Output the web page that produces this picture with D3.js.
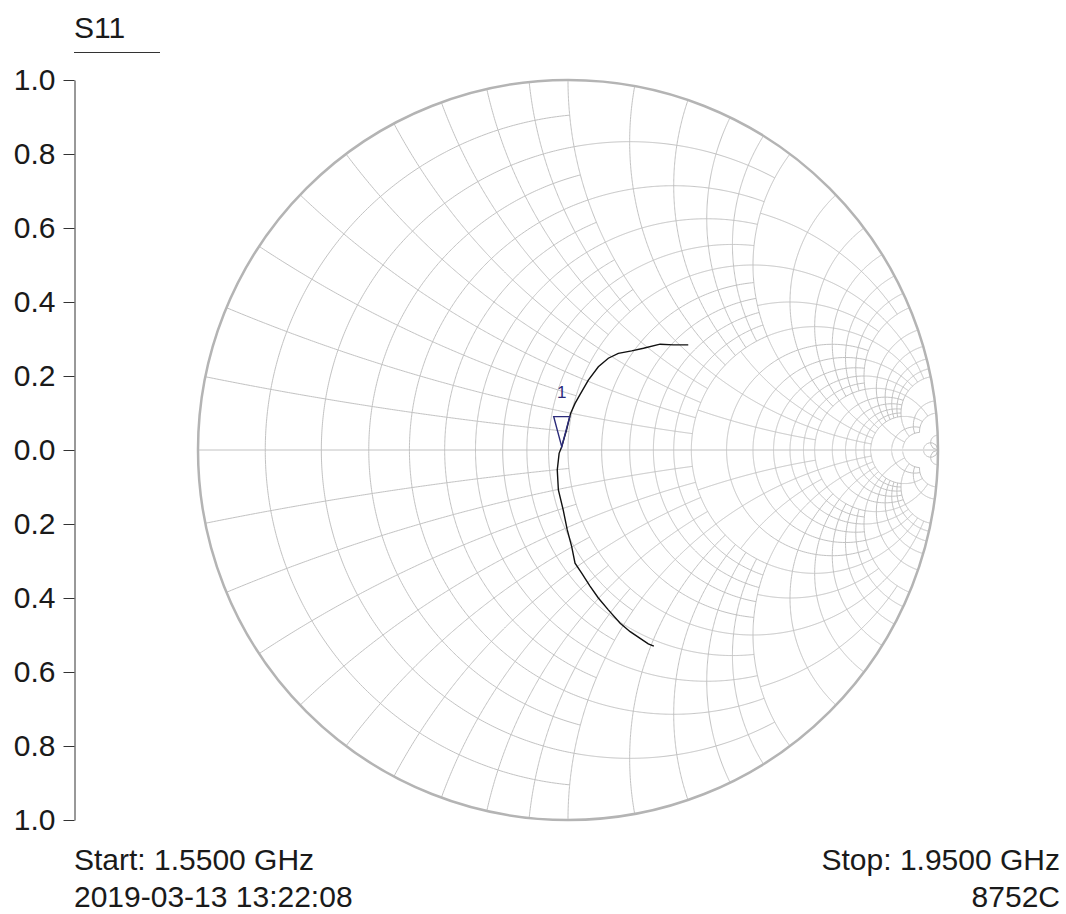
<!DOCTYPE html>
<html>
<head>
<meta charset="utf-8">
<script src="https://cdn.jsdelivr.net/npm/d3@7"></script>
<style>
  body { margin: 0; background: #fff; }
  text { font-family: Arial, "Liberation Sans", sans-serif; fill: #1a1a1a; }
</style>
</head>
<body>
<script>
// grid zones of the chart: inside a zone (lo < max(r,|x|) <= hi) the
// constant resistance and reactance lines take these values
var zoneLo = [0, 1, 2, 5, 10, 20];
var zoneHi = [1, 2, 5, 10, 20, Infinity];
var zoneValues = [
  [0.1, 0.2, 0.3, 0.4, 0.5, 0.6, 0.7, 0.8, 0.9, 1.0],
  [0.2, 0.4, 0.6, 0.8, 1.0, 1.2, 1.4, 1.6, 1.8, 2.0],
  [0.5, 1.0, 1.5, 2.0, 2.5, 3.0, 3.5, 4.0, 4.5, 5.0],
  [1, 2, 3, 4, 5, 6, 7, 8, 9, 10],
  [5, 10, 15, 20],
  [50]
];

// S11 trace, reflection coefficient (real, imag), start -> stop
var traceRe = [0.325, 0.285, 0.249, 0.204, 0.172, 0.136, 0.109, 0.082, 0.055, 0.032,
               0.019, 0.007, -0.004, -0.017, -0.024, -0.029, -0.026, -0.013, -0.002, 0.010,
               0.019, 0.037, 0.059, 0.082, 0.109, 0.141, 0.168, 0.195, 0.217, 0.232];
var traceIm = [0.284, 0.284, 0.286, 0.275, 0.268, 0.261, 0.248, 0.225, 0.189, 0.149,
               0.126, 0.099, 0.054, 0.009, -0.009, -0.054, -0.108, -0.162, -0.216, -0.261,
               -0.306, -0.333, -0.367, -0.400, -0.432, -0.468, -0.491, -0.509, -0.524, -0.530];
var markerIndex = 13;
var markerLabel = "1";

var axisTicks = [1, 0.8, 0.6, 0.4, 0.2, 0, -0.2, -0.4, -0.6, -0.8, -1];
var title = "S11";
var footLeft = ["Start: 1.5500 GHz", "2019-03-13 13:22:08"];
var footRight = ["Stop: 1.9500 GHz", "8752C"];

var W = 1066, H = 914;
var svg = d3.select("body").append("svg")
    .attr("width", W)
    .attr("height", H);

var xs = d3.scaleLinear().domain([-1, 1]).range([198, 938]);
var ys = d3.scaleLinear().domain([-1, 1]).range([820, 80]);

function gamma(r, x) {
  var den = (r + 1) * (r + 1) + x * x;
  return [(r * r + x * x - 1) / den, 2 * x / den];
}

function uOf(v) { return v === Infinity ? Math.PI / 2 : Math.atan(v); }

var line = d3.line()
    .x(function(d) { return xs(d[0]); })
    .y(function(d) { return ys(d[1]); });

var N = 200;
// sample f(tan(u)) for u between atan(a) and atan(b)
function sample(a, b, f) {
  var ua = uOf(a), ub = uOf(b), pts = [];
  for (var i = 0; i <= N; i++) pts.push(f(Math.tan(ua + (ub - ua) * i / N)));
  return pts;
}

var gridPaths = [];
zoneValues.forEach(function(vals, k) {
  var lo = zoneLo[k], hi = zoneHi[k];
  vals.forEach(function(v) {
    // span of the other coordinate inside this zone
    var spans = v > lo ? [[0, hi]] : [[lo, hi]];
    spans.forEach(function(s) {
      [1, -1].forEach(function(sg) {
        // constant resistance r = v
        gridPaths.push(sample(s[0], s[1], function(t) { return gamma(v, sg * t); }));
        // constant reactance x = sg*v
        gridPaths.push(sample(s[0], s[1], function(t) { return gamma(t, sg * v); }));
      });
    });
  });
});

var grid = svg.append("g").attr("class", "grid");
grid.selectAll("path")
    .data(gridPaths)
  .enter().append("path")
    .attr("d", line)
    .attr("fill", "none")
    .attr("stroke", "#c2c2c2")
    .attr("stroke-width", 1);

// real axis
grid.append("line")
    .attr("x1", xs(-1)).attr("x2", xs(1))
    .attr("y1", ys(0)).attr("y2", ys(0))
    .attr("stroke", "#c2c2c2");

// outer circle
svg.append("circle")
    .attr("cx", xs(0))
    .attr("cy", ys(0))
    .attr("r", xs(1) - xs(0))
    .attr("fill", "none")
    .attr("stroke", "#b4b4b4")
    .attr("stroke-width", 2.5);

// trace
var trace = traceRe.map(function(d, i) { return [d, traceIm[i]]; });
svg.append("path")
    .datum(trace)
    .attr("d", line)
    .attr("fill", "none")
    .attr("stroke", "#111")
    .attr("stroke-width", 1.4);

// marker
var mx = xs(traceRe[markerIndex]), my = ys(traceIm[markerIndex]);
svg.append("path")
    .attr("d", "M" + mx + "," + my + " L" + (mx - 8) + "," + (my - 30) + " L" + (mx + 8) + "," + (my - 30) + " Z")
    .attr("fill", "none")
    .attr("stroke", "#2b2b7a")
    .attr("stroke-width", 1.4);
svg.append("text")
    .attr("x", mx)
    .attr("y", my - 49)
    .attr("text-anchor", "middle")
    .style("font-size", "17px")
    .style("fill", "#2b2b7a")
    .text(markerLabel);

// left axis
var yaxis = d3.axisLeft(ys)
    .tickValues(axisTicks)
    .tickSize(11)
    .tickSizeOuter(0)
    .tickPadding(8)
    .tickFormat(function(d) { return Math.abs(d).toFixed(1); });
var ax = svg.append("g")
    .attr("transform", "translate(74.5,0)")
    .call(yaxis);
ax.select(".domain").attr("stroke", "#333");
ax.selectAll(".tick line").attr("stroke", "#333");
ax.selectAll(".tick text")
    .style("font-size", "30px")
    .style("font-family", "Arial, 'Liberation Sans', sans-serif")
    .attr("fill", "#1a1a1a");

// title
svg.append("text")
    .attr("x", 74)
    .attr("y", 38)
    .style("font-size", "30px")
    .text(title);
svg.append("line")
    .attr("x1", 74).attr("x2", 160)
    .attr("y1", 52.5).attr("y2", 52.5)
    .attr("stroke", "#333");

// footer
footLeft.forEach(function(t, i) {
  svg.append("text")
      .attr("x", 74)
      .attr("y", 870 + i * 37)
      .style("font-size", "30px")
      .text(t);
});
footRight.forEach(function(t, i) {
  svg.append("text")
      .attr("x", 1060)
      .attr("y", 870 + i * 37)
      .attr("text-anchor", "end")
      .style("font-size", "30px")
      .text(t);
});
</script>
</body>
</html>
